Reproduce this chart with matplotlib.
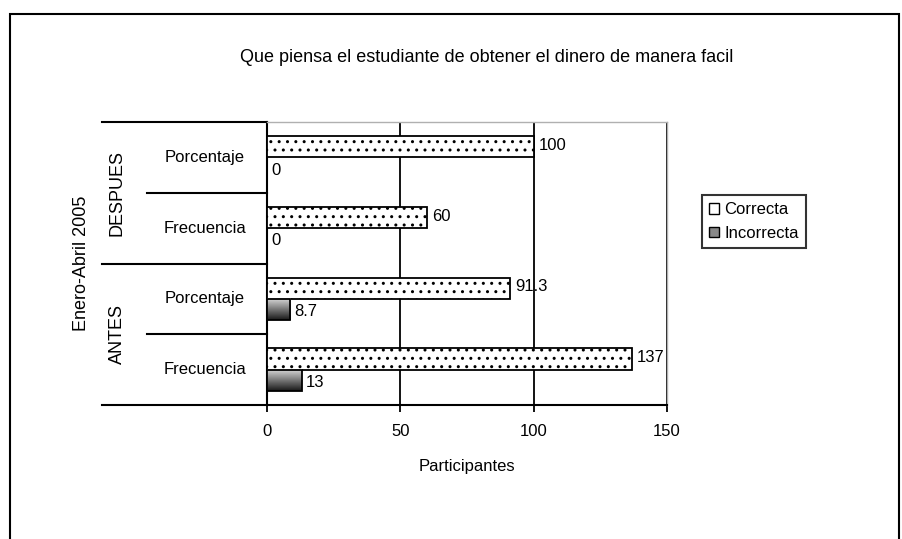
import numpy as np
import matplotlib
matplotlib.use("Agg")
import matplotlib.pyplot as plt
import matplotlib.patches as mpatches
from matplotlib.lines import Line2D

plt.rcParams["font.family"] = ["Liberation Sans", "DejaVu Sans"]
plt.rcParams["hatch.linewidth"] = 1.0

# data (bottom -> top)
categories = ["Frecuencia", "Porcentaje", "Frecuencia", "Porcentaje"]
groups     = ["ANTES", "DESPUES"]
period     = "Enero-Abril 2005"
correcta   = [137, 91.3, 60, 100]
incorrecta = [13, 8.7, 0, 0]
correcta_labels   = ["137", "91.3", "60", "100"]
incorrecta_labels = ["13", "8.7", "0", "0"]
xticks = [0, 50, 100, 150]

title  = "Que piensa el estudiante de obtener el dinero de manera facil"
xlabel = "Participantes"

FS = 12

fig = plt.figure(figsize=(9.03, 5.39), dpi=100)
ax = fig.add_axes([267 / 903, 1 - 405 / 539, 400 / 903, 283 / 539])

y = np.arange(len(categories))
bh = 0.3

# Correcta: white with dots
ax.barh(y + bh / 2, correcta, height=bh, color="white", edgecolor="black",
        hatch="..", linewidth=1.3, zorder=3)

# Incorrecta: gray gradient
bars_in = ax.barh(y - bh / 2, incorrecta, height=bh, color="none",
                  edgecolor="black", linewidth=1.3, zorder=4)
grad = np.linspace(0.1, 0.85, 64).reshape(-1, 1)
for b, v in zip(bars_in, incorrecta):
    if v <= 0:
        continue
    x0, y0 = b.get_x(), b.get_y()
    ax.imshow(grad, cmap="gray", vmin=0, vmax=1, aspect="auto", origin="lower",
              extent=[x0, x0 + v, y0, y0 + bh], zorder=3, interpolation="bilinear")

# data labels
for yi, v, lab in zip(y, correcta, correcta_labels):
    ax.text(v + 1.8, yi + bh / 2 + 0.02, lab, va="center", ha="left", fontsize=FS, zorder=5)
for yi, v, lab in zip(y, incorrecta, incorrecta_labels):
    ax.text(v + 1.5, yi - bh / 2 - 0.03, lab, va="center", ha="left", fontsize=FS, zorder=5)

ax.set_xlim(0, 150)
ax.set_ylim(-0.5, len(categories) - 0.5)
ax.set_xticks(xticks)
ax.set_xticklabels([str(t) for t in xticks], fontsize=FS)
ax.tick_params(axis="x", direction="out", length=5, width=1.3, pad=9)
ax.set_yticks([])
ax.grid(axis="x", color="black", linewidth=1.3, zorder=1)
ax.set_axisbelow(True)
ax.set_xlabel(xlabel, fontsize=FS, labelpad=14)

for s in ["left", "bottom"]:
    ax.spines[s].set_linewidth(1.5)
    ax.spines[s].set_color("black")
for s in ["top", "right"]:
    ax.spines[s].set_linewidth(1.0)
    ax.spines[s].set_color("#b0b0b0")

# hierarchical category axis
tr = ax.transAxes
n = len(categories)
x_outer = (102 - 267) / 400
x_inner = (147 - 267) / 400
for k in range(n + 1):
    yy = k / n
    x_start = x_outer if k % 2 == 0 else x_inner
    ax.add_line(Line2D([x_start, 0], [yy, yy], transform=tr, color="black",
                       linewidth=1.5, clip_on=False))
for k, cat in enumerate(categories):
    ax.text(-0.155, (k + 0.5) / n, cat, transform=tr, ha="center", va="center", fontsize=FS)
for g, name in enumerate(groups):
    ax.text(-0.375, (2 * g + 1) / n, name, transform=tr, ha="center", va="center",
            rotation=90, fontsize=FS + 1)
ax.text(-0.4625, 0.5, period, transform=tr, ha="center", va="center", rotation=90,
        fontsize=FS + 1)

fig.text(487 / 903, 1 - 57 / 539, title, ha="center", va="center", fontsize=FS + 1)

# legend
handles = [
    mpatches.Patch(facecolor="white", edgecolor="black", label="Correcta"),
    mpatches.Patch(facecolor="#888888", edgecolor="black", label="Incorrecta"),
]
leg = fig.legend(handles=handles, loc="upper left", bbox_to_anchor=(702 / 903, 1 - 195 / 539),
                 fontsize=FS, frameon=True, fancybox=False, handlelength=0.6, handleheight=0.6,
                 handletextpad=0.3, borderpad=0.45, labelspacing=0.5, borderaxespad=0)
leg.get_frame().set_edgecolor("black")
leg.get_frame().set_linewidth(1.5)

# outer chart border
fig.add_artist(mpatches.Rectangle((10 / 903, -0.02), 889 / 903, 1 - 14 / 539 + 0.02,
                                  transform=fig.transFigure, fill=False,
                                  edgecolor="black", linewidth=1.5))

fig.savefig("out.png", dpi=100)
plt.close(fig)
